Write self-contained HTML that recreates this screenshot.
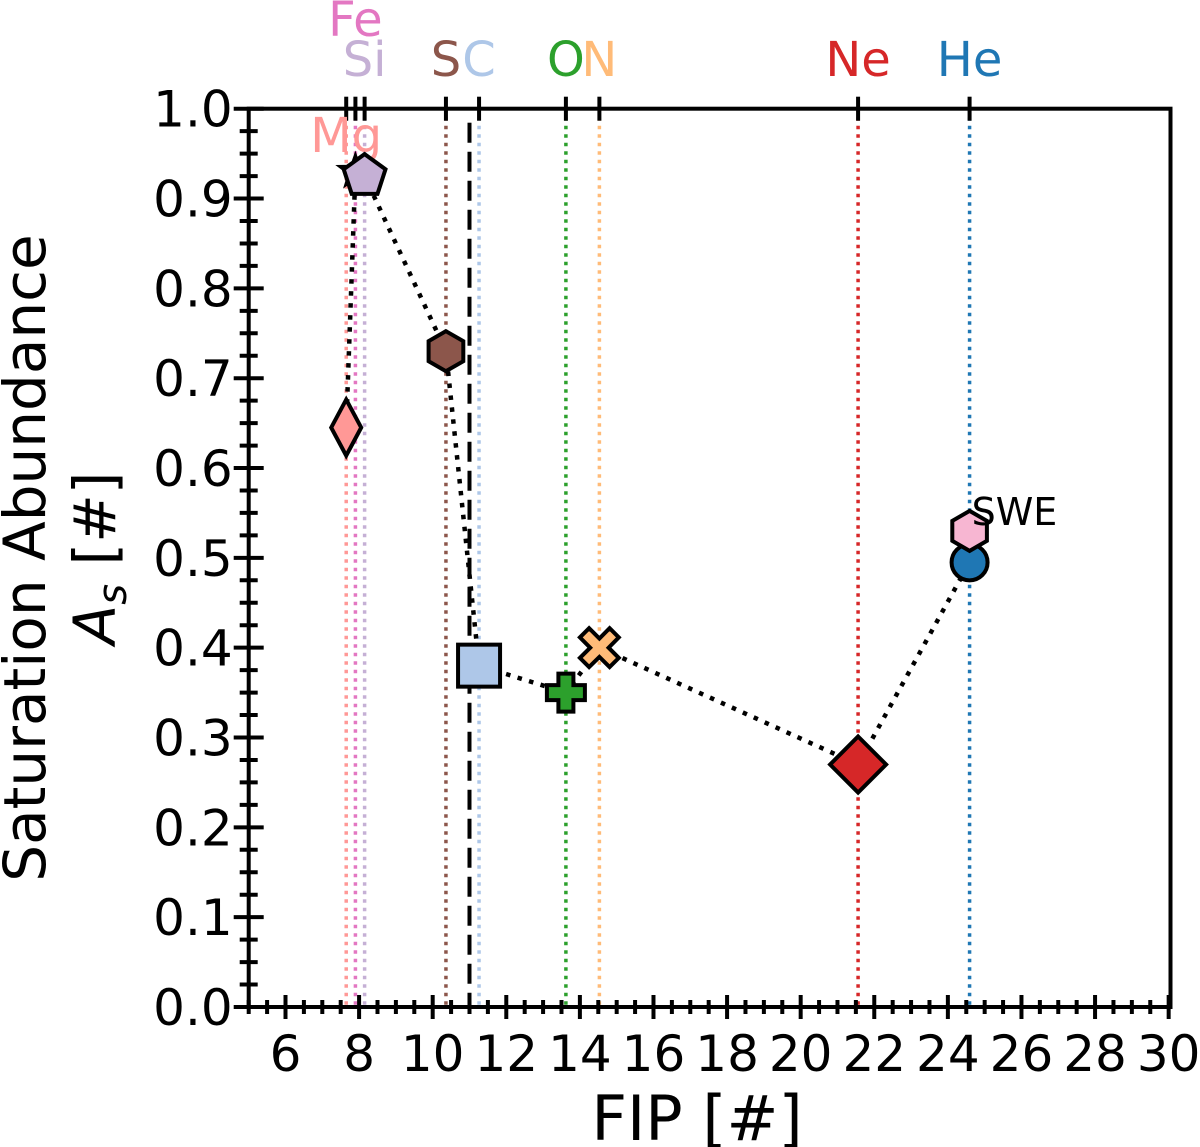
<!DOCTYPE html>
<html><head><meta charset="utf-8"><style>
html,body{margin:0;padding:0;background:#fff;width:1200px;height:1147px;overflow:hidden}
svg text{font-family:"DejaVu Sans","Liberation Sans",sans-serif}
</style></head><body>
<svg id="chart" width="1200" height="1147" xmlns="http://www.w3.org/2000/svg"></svg>
<script>
const elements = ["Mg","Fe","Si","S","C","O","N","Ne","He"];
const fipValues = [7.65,7.90,8.15,10.36,11.26,13.62,14.53,21.56,24.59];
const abundances = [0.645,0.93,0.925,0.73,0.38,0.35,0.40,0.27,0.495];
const colors = ["#ff9896","#e377c2","#c5b0d5","#8c564b","#aec7e8","#2ca02c","#ffbb78","#d62728","#1f77b4"];
const markers = ["thin-diamond","star","pentagon","hexagon","square","plus","x","diamond","circle"];
const labelRows = [2,0,1,1,1,1,1,1,1];
const sweFip = [24.59];
const sweValue = [0.53];
const xTicks = [6,8,10,12,14,16,18,20,22,24,26,28,30];
const yTicks = [0,0.1,0.2,0.3,0.4,0.5,0.6,0.7,0.8,0.9,1.0];
const dashedFip = [11.0];

const X0=248.7,X1=1170.5,Y0=1007,Y1=108.7,XMIN=5,XMAX=30.05,YMIN=0,YMAX=1;
const sx=v=>X0+(v-XMIN)/(XMAX-XMIN)*(X1-X0);
const sy=v=>Y0-(v-YMIN)/(YMAX-YMIN)*(Y0-Y1);
const svg=document.getElementById('chart');
const NS="http://www.w3.org/2000/svg";
function mk(tag,attrs,parent){const e=document.createElementNS(NS,tag);for(const k in attrs)e.setAttribute(k,attrs[k]);(parent||svg).appendChild(e);return e;}

elements.forEach((el,i)=>{
  const l=mk('line',{x1:sx(fipValues[i]),x2:sx(fipValues[i]),y1:Y1,y2:Y0,stroke:colors[i],'stroke-width':3.5,'stroke-dasharray':'3.5,5'});
  
  
});
dashedFip.forEach(v=>{
  const l=mk('line',{x1:sx(v),x2:sx(v),y1:Y1+14,y2:Y0,stroke:'#000','stroke-width':4,'stroke-dasharray':'20,9'});
  
  
});
let pts=elements.map((e,i)=>sx(fipValues[i])+','+sy(abundances[i])).join(' ');
const pl=mk('polyline',{points:pts,fill:'none',stroke:'#000','stroke-width':4.5,'stroke-dasharray':'4.5,7.5'});



const fr=mk('rect',{x:X0,y:Y1,width:X1-X0,height:Y0-Y1,fill:'none',stroke:'#000','stroke-width':4});



for(let v=5;v<=30.001;v+=0.5){
  const major=Math.abs(v/2-Math.round(v/2))<1e-6;
  const h=major?12:7;
  mk('line',{x1:sx(v),x2:sx(v),y1:Y0-h,y2:Y0+h,stroke:'#000','stroke-width':4});
}
xTicks.forEach(v=>{
  const t=mk('text',{x:sx(v),y:Y0+64,'font-size':50,'text-anchor':'middle',fill:'#000'});
  t.textContent=v;
  
  
});
for(let v=0;v<=1.0001;v+=0.025){
  const major=Math.abs(v*10-Math.round(v*10))<1e-6;
  const h=major?15:9;
  mk('line',{x1:X0-h,x2:X0+h,y1:sy(v),y2:sy(v),stroke:'#000','stroke-width':4});
}
yTicks.forEach(v=>{
  const t=mk('text',{x:X0-16,y:sy(v)+18,'font-size':50,'text-anchor':'end',fill:'#000'});
  t.textContent=v.toFixed(1);
  
  
});
elements.forEach((el,i)=>{
  const x=sx(fipValues[i]);
  mk('line',{x1:x,x2:x,y1:Y1-12,y2:Y1+12,stroke:'#000','stroke-width':4});
  const ys=[36,76,152];
  const t=mk('text',{x:x,y:ys[labelRows[i]],'font-size':48,'text-anchor':'middle',fill:colors[i]});
  t.textContent=el;
  
  
});

function poly(n,r,rot){let a=[];for(let k=0;k<n;k++){const t=rot+k*2*Math.PI/n;a.push([r*Math.cos(t),r*Math.sin(t)]);}return a;}
function drawMarker(type,cx,cy,color){
  const st={fill:color,stroke:'#000','stroke-width':4,'stroke-linejoin':'miter'};
  const P=a=>a.map(q=>(cx+q[0]).toFixed(1)+','+(cy+q[1]).toFixed(1)).join(' ');
  switch(type){
    case 'circle':return mk('circle',Object.assign({cx,cy,r:18},st));
    case 'square':return mk('rect',Object.assign({x:cx-21,y:cy-21,width:42,height:42},st));
    case 'diamond':return mk('polygon',Object.assign({points:P([[0,-28],[28,0],[0,28],[-28,0]])},st));
    case 'thin-diamond':return mk('polygon',Object.assign({points:P([[0,-28],[15,0],[0,28],[-15,0]])},st));
    case 'pentagon':return mk('polygon',Object.assign({points:P(poly(5,22,-Math.PI/2))},st));
    case 'hexagon':return mk('polygon',Object.assign({points:P(poly(6,20,-Math.PI/2))},st));
    case 'star':{let a=[];for(let k=0;k<10;k++){const r=k%2?6:15;const t=-Math.PI/2+k*Math.PI/5;a.push([r*Math.cos(t),r*Math.sin(t)]);}return mk('polygon',Object.assign({points:P(a)},st));}
    case 'plus':{const w=7.5,L=19;return mk('polygon',Object.assign({points:P([[-w,-L],[w,-L],[w,-w],[L,-w],[L,w],[w,w],[w,L],[-w,L],[-w,w],[-L,w],[-L,-w],[-w,-w]])},st));}
    case 'x':{const w=6.5,L=21,a=[[-w,-L],[w,-L],[w,-w],[L,-w],[L,w],[w,w],[w,L],[-w,L],[-w,w],[-L,w],[-L,-w],[-w,-w]];const c=Math.SQRT1_2;return mk('polygon',Object.assign({points:P(a.map(q=>[c*(q[0]-q[1]),c*(q[0]+q[1])]))},st));}
  }
}
elements.forEach((el,i)=>{
  const m=drawMarker(markers[i],sx(fipValues[i]),sy(abundances[i]),colors[i]);
  
  
});
sweFip.forEach((v,i)=>{
  const m=drawMarker('hexagon',sx(v),sy(sweValue[i]),'#f7b6d2');
  
  
  const t=mk('text',{x:sx(v)+2,y:sy(sweValue[i])-6,'font-size':38,fill:'#000'});
  t.textContent='SWE';
  
  
});
const xl=mk('text',{x:697,y:1140,'font-size':62,'text-anchor':'middle',fill:'#000'});
xl.textContent='FIP [#]';


const yl=mk('text',{x:0,y:0,'font-size':58,'text-anchor':'middle',fill:'#000',transform:'translate(45,558) rotate(-90)'});
yl.textContent='Saturation Abundance';


const yl2=mk('text',{x:0,y:0,'font-size':58,'text-anchor':'middle',fill:'#000',transform:'translate(115,558) rotate(-90)'});
yl2.innerHTML='<tspan font-style="italic">A</tspan><tspan font-style="italic" font-size="40" dy="11">s</tspan><tspan dy="-11"> [#]</tspan>';


</script>
</body></html>
